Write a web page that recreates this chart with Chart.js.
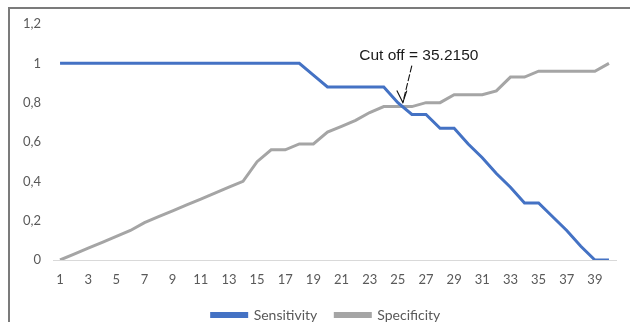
<!DOCTYPE html>
<html lang="en">
  <head>
    <meta charset="UTF-8">
    <title>Sensitivity / Specificity</title>
    <script src="https://cdn.jsdelivr.net/npm/chart.js"></script>
    <style>
      html, body { margin: 0; padding: 0; background: #fff; overflow: hidden; }
      #wrap { position: relative; width: 630px; height: 322px; overflow: hidden; }
      #frame {
        position: absolute; left: 8px; top: 7px; right: 0; bottom: 0;
        border-left: 2px solid #7b7b7b; border-top: 2px solid #7b7b7b;
        pointer-events: none;
      }
    </style>
  </head>

  <body>
    <div id="wrap">
      <!-- canvas a bit taller than the window so the legend sits low like the original -->
      <canvas id="Chart" width="630" height="332"></canvas>
      <div id="frame"></div>
    </div>
    <script>
      // data
      var categories = [1, 2, 3, 4, 5, 6, 7, 8, 9, 10, 11, 12, 13, 14, 15, 16, 17, 18, 19, 20,
                        21, 22, 23, 24, 25, 26, 27, 28, 29, 30, 31, 32, 33, 34, 35, 36, 37, 38, 39, 40];
      var sensitivity = [1, 1, 1, 1, 1, 1, 1, 1, 1, 1, 1, 1, 1, 1, 1, 1, 1, 1, 0.94, 0.88,
                         0.88, 0.88, 0.88, 0.88, 0.80, 0.74, 0.74, 0.67, 0.67, 0.59,
                         0.52, 0.44, 0.37, 0.29, 0.29, 0.22, 0.15, 0.07, 0, 0];
      var specificity = [0, 0.03, 0.06, 0.09, 0.12, 0.15, 0.19, 0.22, 0.25, 0.28,
                         0.31, 0.34, 0.37, 0.40, 0.50, 0.56, 0.56, 0.59, 0.59, 0.65,
                         0.68, 0.71, 0.75, 0.78, 0.78, 0.78, 0.80, 0.80, 0.84, 0.84,
                         0.84, 0.86, 0.93, 0.93, 0.96, 0.96, 0.96, 0.96, 0.96, 1.0];
      var yTicks = [0, 0.2, 0.4, 0.6, 0.8, 1, 1.2];
      var cutoffIndex = 24;
      var cutoffLabel = "Cut off = 35.2150";

      var cutoffNote = {
        id: 'cutoffNote',
        afterLayout(chart) {
          // the original legend sits a little right of centre
          if (chart.legend) { chart.legend.left += 18; chart.legend.right += 18; }
        },
        afterDatasetsDraw(chart) {
          const ctx = chart.ctx;
          const x = chart.scales.x.getPixelForValue(cutoffIndex);
          const y = chart.scales.y.getPixelForValue(specificity[cutoffIndex]);
          const tipX = x + 5, tipY = y - 4;
          ctx.save();
          ctx.strokeStyle = '#111';
          ctx.lineWidth = 1.1;
          ctx.setLineDash([7, 2]);
          ctx.beginPath();
          ctx.moveTo(x + 14, y - 41);
          ctx.lineTo(tipX, tipY);
          ctx.stroke();
          ctx.setLineDash([]);
          ctx.beginPath();
          ctx.moveTo(tipX - 6, tipY - 12);
          ctx.lineTo(tipX, tipY);
          ctx.lineTo(tipX + 4, tipY - 12);
          ctx.stroke();
          ctx.fillStyle = '#1a1a1a';
          ctx.font = '15.5px "Liberation Sans", Arial, sans-serif';
          ctx.textAlign = 'center';
          ctx.textBaseline = 'alphabetic';
          ctx.fillText(cutoffLabel, x + 21, y - 47);
          ctx.restore();
        }
      };

      new Chart("Chart", {
        type: "line",
        data: {
          labels: categories,
          datasets: [{
            label: "Sensitivity",
            data: sensitivity,
            borderColor: "#4472C4",
            backgroundColor: "#4472C4",
            borderWidth: 3,
            pointRadius: 0,
            tension: 0
          }, {
            label: "Specificity",
            data: specificity,
            borderColor: "#A5A5A5",
            backgroundColor: "#A5A5A5",
            borderWidth: 3,
            pointRadius: 0,
            tension: 0
          }]
        },
        options: {
          responsive: false,
          animation: false,
          layout: { padding: { left: 0, right: 14, top: 24, bottom: 0 } },
          scales: {
            x: {
              offset: true,
              afterFit: function(scale) { scale.height = 30; },
              grid: { display: false, drawTicks: false },
              border: { display: true, color: '#d9d9d9', width: 1 },
              ticks: {
                color: '#595959',
                font: { family: 'Lato', size: 13 },
                padding: 12,
                maxRotation: 0,
                autoSkip: false,
                callback: function(val, i) { return i % 2 === 0 ? categories[i] : ''; }
              }
            },
            y: {
              min: 0,
              max: 1.2,
              afterFit: function(scale) { scale.width = 53; },
              afterBuildTicks: function(scale) { scale.ticks = yTicks.map(v => ({ value: v })); },
              grid: { display: false, drawTicks: false },
              border: { display: false },
              ticks: {
                color: '#595959',
                font: { family: 'Lato', size: 13 },
                padding: 12,
                callback: function(v) { return String(Math.round(v * 10) / 10).replace('.', ','); }
              }
            }
          },
          plugins: {
            legend: {
              position: 'bottom',
              labels: {
                color: '#595959',
                font: { family: 'Lato', size: 14 },
                boxWidth: 35,
                boxHeight: 3,
                padding: 18
              }
            },
            tooltip: { enabled: false }
          }
        },
        plugins: [cutoffNote]
      });
    </script>
  </body>
</html>
